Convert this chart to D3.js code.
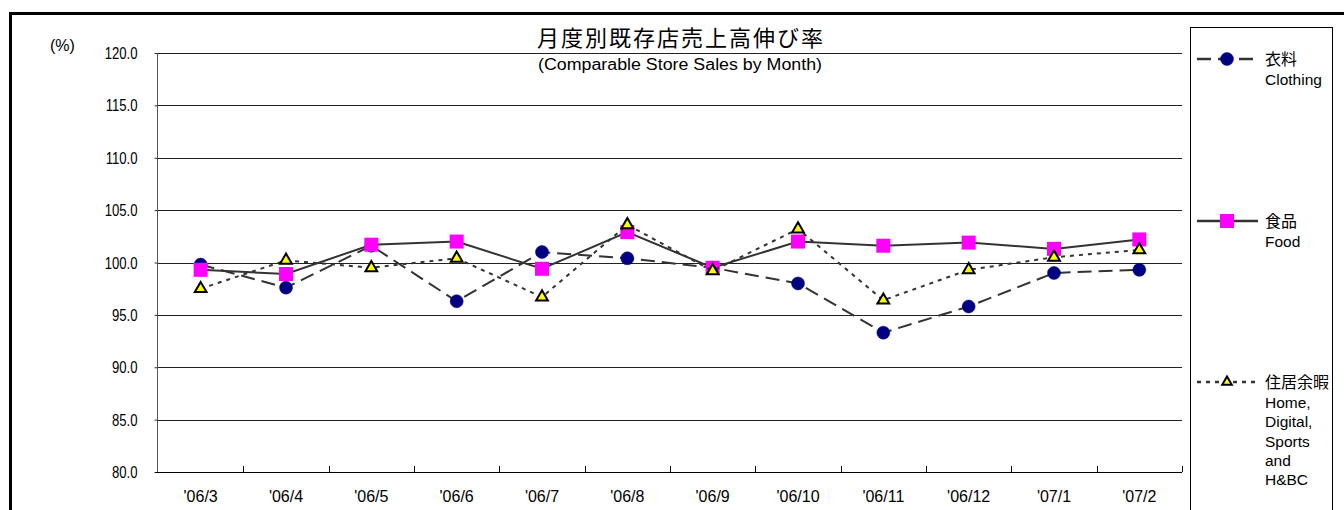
<!DOCTYPE html>
<html>
<head>
<meta charset="utf-8">
<script src="https://cdn.jsdelivr.net/npm/d3@7"></script>
<style>
  body { margin: 0; background: #fff; }
  svg { display: block; font-family: "Liberation Sans", Arial, sans-serif; }
  .jp { font-family: "Noto Sans CJK JP", sans-serif; }
</style>
</head>
<body>
<div id="chart"></div>
<script>
"use strict";

var months   = ["'06/3","'06/4","'06/5","'06/6","'06/7","'06/8","'06/9","'06/10","'06/11","'06/12","'07/1","'07/2"];
var clothing = [99.8, 97.6, 101.6, 96.3, 101.0, 100.4, 99.5, 98.0, 93.3, 95.8, 99.0, 99.3];
var food     = [99.3, 98.9, 101.7, 102.0, 99.4, 102.9, 99.5, 102.0, 101.6, 101.9, 101.3, 102.2];
var home     = [97.5, 100.2, 99.5, 100.4, 96.7, 103.6, 99.2, 103.2, 96.4, 99.3, 100.5, 101.2];
var yTicks   = [80, 85, 90, 95, 100, 105, 110, 115, 120];

var width = 1344, height = 510;

var svg = d3.select("#chart").append("svg")
    .attr("width", width)
    .attr("height", height);

// outer frame, runs off the right and bottom of the picture
svg.append("rect")
    .attr("x", 10.5).attr("y", 13.5)
    .attr("width", 1360).attr("height", 520)
    .style("fill", "none")
    .style("stroke", "#000")
    .style("stroke-width", 3);

var x = d3.scaleBand().domain(months).range([158, 1182]);
var y = d3.scaleLinear().domain([80, 120]).range([472, 53]);
var cx = function(d, i){ return x(months[i]) + x.bandwidth()/2; };

// gridlines
svg.append("g").selectAll("line")
    .data(yTicks.filter(function(t){ return t > 80; }))
    .enter().append("line")
      .attr("x1", 158).attr("x2", 1182)
      .attr("y1", function(d){ return Math.round(y(d)) + 0.5; })
      .attr("y2", function(d){ return Math.round(y(d)) + 0.5; })
      .style("stroke", "#222")
      .style("stroke-width", 1);

// y axis
var yAxis = svg.append("g")
    .attr("transform", "translate(157.5,0)")
    .call(d3.axisLeft(y).tickValues(yTicks).tickSize(3).tickPadding(17).tickFormat(d3.format(".1f")));
yAxis.select(".domain").style("stroke", "#555").attr("d", "M0," + y(120) + "V" + (y(80)+0.5));
yAxis.selectAll(".tick line").style("stroke", "#333");
yAxis.selectAll("text")
    .style("font-size", "16px")
    .style("fill", "#000")
    .attr("dy", "0.35em")
    .each(function(){
      // labels are condensed in the original
      var w = this.getComputedTextLength();
      d3.select(this).attr("textLength", w * 0.82).attr("lengthAdjust", "spacingAndGlyphs");
    });

// x axis, ticks pointing up at band edges
svg.append("line")
    .attr("x1", 155).attr("x2", 1182)
    .attr("y1", 472.5).attr("y2", 472.5)
    .style("stroke", "#000");
var edges = months.map(function(m){ return x(m); }).concat([1182]);
svg.append("g").selectAll("line")
    .data(edges.slice(1))
    .enter().append("line")
      .attr("x1", function(d){ return Math.round(d) + 0.5; })
      .attr("x2", function(d){ return Math.round(d) + 0.5; })
      .attr("y1", 466).attr("y2", 472)
      .style("stroke", "#000");
svg.append("g").selectAll("text")
    .data(months)
    .enter().append("text")
      .attr("x", function(d){ return x(d) + x.bandwidth()/2; })
      .attr("y", 502)
      .attr("text-anchor", "middle")
      .style("font-size", "16px")
      .text(function(d){ return d; });

// titles
svg.append("text")
    .attr("class", "jp")
    .attr("x", 680).attr("y", 46)
    .attr("text-anchor", "middle")
    .attr("textLength", 286)
    .style("font-size", "22px")
    .text("月度別既存店売上高伸び率");
svg.append("text")
    .attr("x", 680).attr("y", 70)
    .attr("text-anchor", "middle")
    .attr("textLength", 284)
    .attr("lengthAdjust", "spacingAndGlyphs")
    .style("font-size", "16px")
    .text("(Comparable Store Sales by Month)");
svg.append("text")
    .attr("x", 50).attr("y", 51)
    .style("font-size", "16px")
    .text("(%)");

var series = [
  {name:"衣料", sub:["Clothing"], values:clothing, dash:"14,7", marker:"circle", ly:59},
  {name:"食品", sub:["Food"], values:food, dash:null, marker:"square", ly:221},
  {name:"住居余暇", sub:["Home,","Digital,","Sports","and","H&BC"], values:home, dash:"4,5", marker:"triangle", ly:382}
];

var line = d3.line()
    .x(cx)
    .y(function(d){ return y(d); });

function drawMarker(g, kind, small){
  if (kind === "circle") {
    g.append("circle").attr("r", 6.5)
      .style("fill", "#000080").style("stroke", "#000080").style("stroke-width", 0.5);
  } else if (kind === "square") {
    g.append("rect").attr("x", -7).attr("y", -7).attr("width", 14).attr("height", 14)
      .style("fill", "#ff00ff");
  } else {
    g.append("path").attr("d", d3.symbol().type(d3.symbolTriangle).size(small ? 40 : 60)())
      .style("fill", "#ffff00").style("stroke", "#000").style("stroke-width", 2);
  }
}

series.forEach(function(s){
  var g = svg.append("g");
  g.append("path")
    .datum(s.values)
    .attr("d", line)
    .style("fill", "none")
    .style("stroke", "#333")
    .style("stroke-width", 2)
    .style("stroke-dasharray", s.dash);
  g.selectAll("g.pt")
    .data(s.values)
    .enter().append("g")
      .attr("class", "pt")
      .attr("transform", function(d, i){ return "translate(" + cx(d, i) + "," + y(d) + ")"; })
      .each(function(){ drawMarker(d3.select(this), s.marker, false); });
});

// legend
svg.append("rect")
    .attr("x", 1190.5).attr("y", 27.5)
    .attr("width", 142).attr("height", 500)
    .style("fill", "#fff")
    .style("stroke", "#000")
    .style("stroke-width", 1);

series.forEach(function(s){
  var g = svg.append("g").attr("transform", "translate(0," + s.ly + ")");
  g.append("line")
    .attr("x1", 1197).attr("x2", 1258)
    .attr("y1", 0).attr("y2", 0)
    .style("stroke", "#333")
    .style("stroke-width", 2.5)
    .style("stroke-dasharray", s.dash);
  drawMarker(g.append("g").attr("transform", "translate(1227,0)"), s.marker, true);
  g.append("text")
    .attr("class", "jp")
    .attr("x", 1265).attr("y", 6)
    .style("font-size", "16px")
    .text(s.name);
  s.sub.forEach(function(t, i){
    g.append("text")
      .attr("x", 1265).attr("y", 26 + i*19.3)
      .style("font-size", "15.5px")
      .text(t);
  });
});
</script>
</body>
</html>
